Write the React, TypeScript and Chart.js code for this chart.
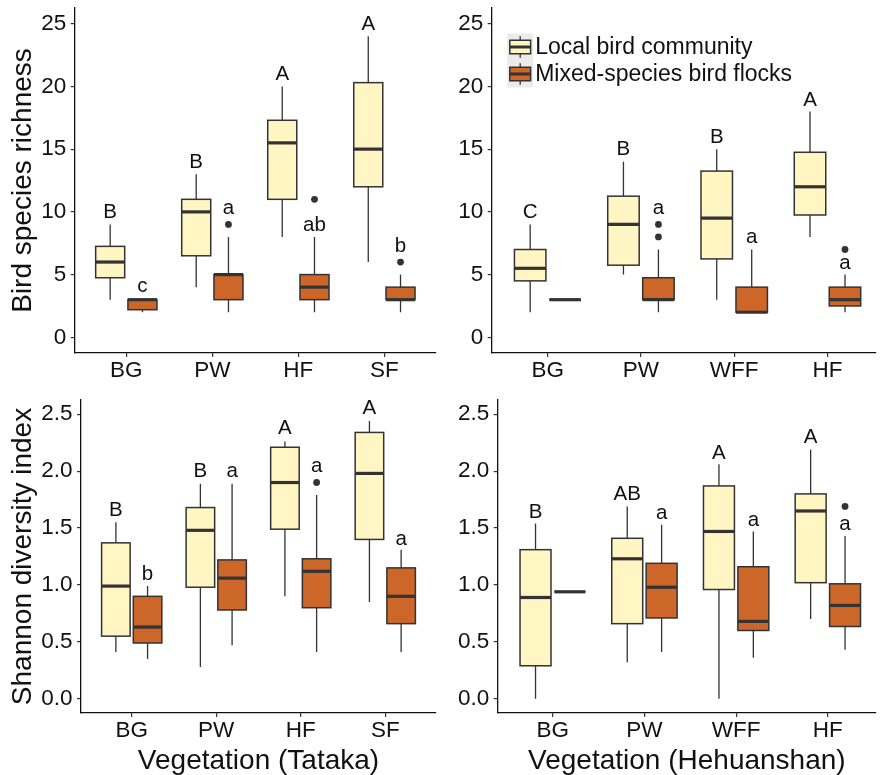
import React, { useEffect, useRef } from "react";
import { Chart, registerables } from "chart.js";

Chart.register(...registerables);

const FONT = "'Liberation Sans', Arial, Helvetica, sans-serif";
const LIGHT = "#FFF6C4";
const DARK = "#CD6629";
const EDGE = "#333333";
const INK = "#111111";
const DODGE = 0.1875;
const BOXW = 0.3375;

// ---------- categories / ticks ----------
const tatakaCats = ["BG", "PW", "HF", "SF"];
const hehuanCats = ["BG", "PW", "WFF", "HF"];
const richTicks = [0, 5, 10, 15, 20, 25];
const shannonTicks = [0, 0.5, 1.0, 1.5, 2.0, 2.5];
const legendLabels = ["Local bird community", "Mixed-species bird flocks"];

// ---------- box stats: [min, q1, median, q3, max] ----------
// Tataka – species richness
const tatakaRichLocal = [[3, 4.75, 6, 7.25, 9], [4, 6.5, 10, 11, 13], [8, 11, 15.5, 17.3, 20], [6, 12, 15, 20.3, 24]];
const tatakaRichFlock = [[2, 2.2, 3, 3, 3], [2, 3, 5, 5, 8], [2, 3, 4, 5, 8], [2, 3, 3, 4, 5]];
const tatakaRichLocalOut = [[], [], [], []];
const tatakaRichFlockOut = [[], [9], [11], [6]];
const tatakaRichLocalLetters = ["B", "B", "A", "A"];
const tatakaRichLocalLetterY = [9.5, 13.5, 20.5, 24.5];
const tatakaRichFlockLetters = ["c", "a", "ab", "b"];
const tatakaRichFlockLetterY = [3.65, 9.8, 8.45, 6.8];

// Hehuanshan – species richness
const hehuanRichLocal = [[2, 4.5, 5.5, 7, 9], [5, 5.75, 9, 11.25, 14], [3, 6.25, 9.5, 13.25, 15], [8, 9.75, 12, 14.75, 18]];
const hehuanRichFlock = [[3, 3, 3, 3, 3], [2, 3, 3, 4.75, 7], [2, 2, 2, 4, 7], [2, 2.5, 3, 4, 5]];
const hehuanRichLocalOut = [[], [], [], []];
const hehuanRichFlockOut = [[], [8, 9], [], [7]];
const hehuanRichLocalLetters = ["C", "B", "B", "A"];
const hehuanRichLocalLetterY = [9.5, 14.5, 15.5, 18.4];
const hehuanRichFlockLetters = ["", "a", "a", "a"];
const hehuanRichFlockLetterY = [0, 9.8, 7.5, 5.45];

// Tataka – Shannon diversity
const tatakaShanLocal = [[0.41, 0.55, 0.99, 1.37, 1.55], [0.28, 0.98, 1.48, 1.68, 1.89], [0.9, 1.49, 1.9, 2.21, 2.26], [0.85, 1.4, 1.98, 2.34, 2.44]];
const tatakaShanFlock = [[0.35, 0.49, 0.63, 0.9, 0.99], [0.47, 0.78, 1.06, 1.22, 1.89], [0.41, 0.8, 1.12, 1.23, 1.79], [0.41, 0.66, 0.9, 1.15, 1.31]];
const tatakaShanLocalOut = [[], [], [], []];
const tatakaShanFlockOut = [[], [], [1.9], []];
const tatakaShanLocalLetters = ["B", "B", "A", "A"];
const tatakaShanLocalLetterY = [1.61, 1.95, 2.325, 2.5];
const tatakaShanFlockLetters = ["b", "a", "a", "a"];
const tatakaShanFlockLetterY = [1.04, 1.95, 1.99, 1.355];

// Hehuanshan – Shannon diversity
const hehuanShanLocal = [[0, 0.29, 0.89, 1.31, 1.54], [0.32, 0.66, 1.23, 1.41, 1.69], [0, 0.96, 1.47, 1.87, 2.06], [0.7, 1.02, 1.65, 1.8, 2.19]];
const hehuanShanFlock = [[0.94, 0.94, 0.94, 0.94, 0.94], [0.41, 0.71, 0.98, 1.19, 1.53], [0.36, 0.6, 0.68, 1.16, 1.47], [0.43, 0.635, 0.82, 1.01, 1.43]];
const hehuanShanLocalOut = [[], [], [], []];
const hehuanShanFlockOut = [[], [], [], [1.69]];
const hehuanShanLocalLetters = ["B", "AB", "A", "A"];
const hehuanShanLocalLetterY = [1.59, 1.75, 2.11, 2.25];
const hehuanShanFlockLetters = ["", "a", "a", "a"];
const hehuanShanFlockLetterY = [0, 1.58, 1.52, 1.48];

type Panel = {
  key: string;
  left: number; top: number; width: number; height: number;
  area: { left: number; top: number; bottom: number };
  cats: string[];
  local: number[][]; flock: number[][];
  localOut: number[][]; flockOut: number[][];
  localLetters: string[]; localLetterY: number[];
  flockLetters: string[]; flockLetterY: number[];
  yMin: number; yMax: number; yTicks: number[]; yDigits: number;
  xMax: number;
  yTitle: string; xTitle: string; legend: boolean;
};

const PANELS: Panel[] = [
  {
    key: "a", left: 0, top: 0, width: 440, height: 390,
    area: { left: 74.7, top: 8, bottom: 353 },
    cats: tatakaCats, local: tatakaRichLocal, flock: tatakaRichFlock,
    localOut: tatakaRichLocalOut, flockOut: tatakaRichFlockOut,
    localLetters: tatakaRichLocalLetters, localLetterY: tatakaRichLocalLetterY,
    flockLetters: tatakaRichFlockLetters, flockLetterY: tatakaRichFlockLetterY,
    yMin: -1.25, yMax: 26.25, yTicks: richTicks, yDigits: 0, xMax: 4.6,
    yTitle: "Bird species richness", xTitle: "", legend: false,
  },
  {
    key: "b", left: 440, top: 0, width: 440, height: 390,
    area: { left: 51.7, top: 8, bottom: 353 },
    cats: hehuanCats, local: hehuanRichLocal, flock: hehuanRichFlock,
    localOut: hehuanRichLocalOut, flockOut: hehuanRichFlockOut,
    localLetters: hehuanRichLocalLetters, localLetterY: hehuanRichLocalLetterY,
    flockLetters: hehuanRichFlockLetters, flockLetterY: hehuanRichFlockLetterY,
    yMin: -1.25, yMax: 26.25, yTicks: richTicks, yDigits: 0, xMax: 4.52,
    yTitle: "", xTitle: "", legend: true,
  },
  {
    key: "c", left: 0, top: 390, width: 440, height: 385,
    area: { left: 81, top: 10, bottom: 323 },
    cats: tatakaCats, local: tatakaShanLocal, flock: tatakaShanFlock,
    localOut: tatakaShanLocalOut, flockOut: tatakaShanFlockOut,
    localLetters: tatakaShanLocalLetters, localLetterY: tatakaShanLocalLetterY,
    flockLetters: tatakaShanFlockLetters, flockLetterY: tatakaShanFlockLetterY,
    yMin: -0.125, yMax: 2.625, yTicks: shannonTicks, yDigits: 1, xMax: 4.6,
    yTitle: "Shannon diversity index", xTitle: "Vegetation (Tataka)", legend: false,
  },
  {
    key: "d", left: 440, top: 390, width: 440, height: 385,
    area: { left: 57.7, top: 10, bottom: 323 },
    cats: hehuanCats, local: hehuanShanLocal, flock: hehuanShanFlock,
    localOut: hehuanShanLocalOut, flockOut: hehuanShanFlockOut,
    localLetters: hehuanShanLocalLetters, localLetterY: hehuanShanLocalLetterY,
    flockLetters: hehuanShanFlockLetters, flockLetterY: hehuanShanFlockLetterY,
    yMin: -0.125, yMax: 2.625, yTicks: shannonTicks, yDigits: 1, xMax: 4.525,
    yTitle: "", xTitle: "Vegetation (Hehuanshan)", legend: false,
  },
];

function makePlugin(p: Panel) {
  return {
    id: "boxplots-" + p.key,
    beforeDatasetsDraw(chart: any) {
      const ctx = chart.ctx as CanvasRenderingContext2D;
      const xs = chart.scales.x;
      const ys = chart.scales.y;
      ctx.save();
      const groups = [
        { stats: p.local, fill: LIGHT, off: -DODGE },
        { stats: p.flock, fill: DARK, off: DODGE },
      ];
      groups.forEach((g) => {
        g.stats.forEach((s, i) => {
          const c = i + 1 + g.off;
          const xc = xs.getPixelForValue(c);
          const x0 = xs.getPixelForValue(c - BOXW / 2);
          const x1 = xs.getPixelForValue(c + BOXW / 2);
          const [mn, q1, md, q3, mx] = s.map((v) => ys.getPixelForValue(v));
          ctx.strokeStyle = EDGE;
          ctx.lineCap = "butt";
          ctx.lineWidth = 1.3;
          ctx.beginPath();
          ctx.moveTo(xc, mx);
          ctx.lineTo(xc, q3);
          ctx.moveTo(xc, q1);
          ctx.lineTo(xc, mn);
          ctx.stroke();
          ctx.fillStyle = g.fill;
          ctx.fillRect(x0, q3, x1 - x0, q1 - q3);
          ctx.lineWidth = 1.5;
          ctx.strokeRect(x0, q3, x1 - x0, q1 - q3);
          ctx.lineWidth = 3.2;
          ctx.beginPath();
          ctx.moveTo(x0, md);
          ctx.lineTo(x1, md);
          ctx.stroke();
        });
      });
      ctx.restore();
    },
    afterDatasetsDraw(chart: any) {
      const ctx = chart.ctx as CanvasRenderingContext2D;
      const xs = chart.scales.x;
      const ys = chart.scales.y;
      ctx.save();
      ctx.font = `20.5px ${FONT}`;
      ctx.fillStyle = INK;
      ctx.textAlign = "center";
      ctx.textBaseline = "alphabetic";
      p.localLetters.forEach((t, i) => {
        if (!t) return;
        ctx.fillText(t, xs.getPixelForValue(i + 1 - DODGE), ys.getPixelForValue(p.localLetterY[i]));
      });
      p.flockLetters.forEach((t, i) => {
        if (!t) return;
        ctx.fillText(t, xs.getPixelForValue(i + 1 + DODGE), ys.getPixelForValue(p.flockLetterY[i]));
      });

      if (p.legend) {
        const area = chart.chartArea;
        const lx = area.left + 15.5;
        const ly = area.top + 25.5;
        const kw = 26;
        const kh = 27;
        ctx.fillStyle = "#EBEBEB";
        ctx.fillRect(lx, ly, kw, kh * 2);
        const fills = [LIGHT, DARK];
        legendLabels.forEach((lab, k) => {
          const top = ly + kh * k;
          const cx = lx + kw / 2;
          const cy = top + kh / 2;
          ctx.strokeStyle = EDGE;
          ctx.lineWidth = 1.3;
          ctx.beginPath();
          ctx.moveTo(cx, top + kh * 0.1);
          ctx.lineTo(cx, top + kh * 0.9);
          ctx.stroke();
          const bx0 = lx + kw * 0.1;
          const bw = kw * 0.8;
          ctx.fillStyle = fills[k];
          ctx.fillRect(bx0, top + kh * 0.25, bw, kh * 0.5);
          ctx.lineWidth = 1.5;
          ctx.strokeRect(bx0, top + kh * 0.25, bw, kh * 0.5);
          ctx.lineWidth = 3;
          ctx.beginPath();
          ctx.moveTo(bx0, cy);
          ctx.lineTo(bx0 + bw, cy);
          ctx.stroke();
          ctx.fillStyle = INK;
          ctx.font = `23px ${FONT}`;
          ctx.textAlign = "left";
          ctx.textBaseline = "middle";
          ctx.fillText(lab, lx + kw + 2, cy + 1);
        });
      }
      ctx.restore();
    },
  };
}

function buildConfig(p: Panel): any {
  const outliers: { x: number; y: number }[] = [];
  p.localOut.forEach((arr, i) => arr.forEach((v) => outliers.push({ x: i + 1 - DODGE, y: v })));
  p.flockOut.forEach((arr, i) => arr.forEach((v) => outliers.push({ x: i + 1 + DODGE, y: v })));

  const grid = {
    display: true,
    drawOnChartArea: false,
    drawTicks: true,
    tickLength: 4,
    color: EDGE,
    lineWidth: 1.2,
  };
  const border = { display: true, color: INK, width: 1.3 };

  return {
    type: "scatter",
    data: {
      datasets: [
        {
          data: outliers,
          pointRadius: 3.4,
          pointBackgroundColor: EDGE,
          pointBorderColor: EDGE,
          pointBorderWidth: 0,
          showLine: false,
        },
      ],
    },
    options: {
      responsive: false,
      animation: false,
      devicePixelRatio: 1,
      events: [],
      layout: { padding: { top: p.area.top, left: 0, right: 0, bottom: 0 } },
      plugins: { legend: { display: false }, tooltip: { enabled: false } },
      scales: {
        x: {
          type: "linear",
          position: "bottom",
          min: 0.4,
          max: p.xMax,
          afterBuildTicks: (s: any) => {
            s.ticks = p.cats.map((_, i) => ({ value: i + 1 }));
          },
          afterFit: (s: any) => {
            s.height = p.height - p.area.bottom;
            s.paddingLeft = 0;
            s.paddingRight = 0;
          },
          ticks: {
            callback: (v: number) => p.cats[Math.round(v) - 1] ?? "",
            font: { family: FONT, size: 22.5, lineHeight: 1.2 },
            color: INK,
            padding: 0.5,
            maxRotation: 0,
            minRotation: 0,
            autoSkip: false,
          },
          grid,
          border,
          title: {
            display: !!p.xTitle,
            text: p.xTitle,
            color: INK,
            font: { family: FONT, size: 28, lineHeight: 1 },
            padding: { top: 0, bottom: 0 },
          },
        },
        y: {
          type: "linear",
          position: "left",
          min: p.yMin,
          max: p.yMax,
          afterBuildTicks: (s: any) => {
            s.ticks = p.yTicks.map((v) => ({ value: v }));
          },
          afterFit: (s: any) => {
            s.width = p.area.left;
            s.paddingTop = 0;
            s.paddingBottom = 0;
          },
          ticks: {
            callback: (v: number) => Number(v).toFixed(p.yDigits),
            font: { family: FONT, size: 22.5, lineHeight: 1.2 },
            color: INK,
            padding: 4.5,
            autoSkip: false,
          },
          grid,
          border,
          title: {
            display: !!p.yTitle,
            text: p.yTitle,
            color: INK,
            font: { family: FONT, size: 28, lineHeight: 1 },
            padding: { top: 9, bottom: 0 },
          },
        },
      },
    },
    plugins: [makePlugin(p)],
  };
}

function PanelChart({ p }: { p: Panel }) {
  const ref = useRef<HTMLCanvasElement>(null);
  useEffect(() => {
    if (!ref.current) return;
    const chart = new Chart(ref.current, buildConfig(p));
    return () => chart.destroy();
  }, [p]);
  return (
    <canvas
      ref={ref}
      width={p.width}
      height={p.height}
      style={{ position: "absolute", left: p.left, top: p.top, width: p.width, height: p.height }}
    />
  );
}

export default function App() {
  return (
    <div style={{ position: "absolute", left: 0, top: 0, width: 880, height: 775, background: "#ffffff", overflow: "hidden" }}>
      {PANELS.map((p) => (
        <PanelChart key={p.key} p={p} />
      ))}
    </div>
  );
}
